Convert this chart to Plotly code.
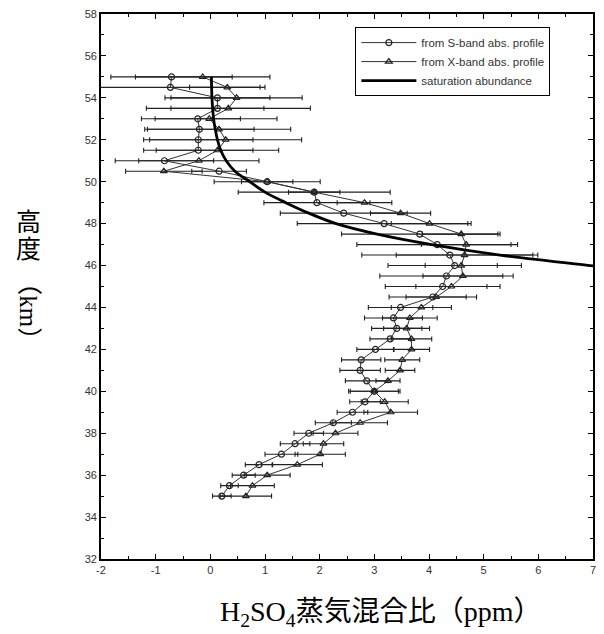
import plotly.graph_objects as go

# Altitude grid (km)
altitude = [35.0, 35.5, 36.0, 36.5, 37.0, 37.5, 38.0, 38.5, 39.0, 39.5,
            40.0, 40.5, 41.0, 41.5, 42.0, 42.5, 43.0, 43.5, 44.0, 44.5,
            45.0, 45.5, 46.0, 46.5, 47.0, 47.5, 48.0, 48.5, 49.0, 49.5,
            50.0, 50.5, 51.0, 51.5, 52.0, 52.5, 53.0, 53.5, 54.0, 54.5, 55.0]

# from S-band abs. profile (ppm) and its error
s_band = [0.21, 0.35, 0.61, 0.89, 1.30, 1.55, 1.80, 2.25, 2.60, 2.83,
          3.00, 2.86, 2.74, 2.76, 3.02, 3.29, 3.41, 3.35, 3.48, 4.07,
          4.25, 4.32, 4.47, 4.38, 4.15, 3.83, 3.18, 2.44, 1.95, 1.90,
          1.04, 0.16, -0.84, -0.22, -0.22, -0.20, -0.23, 0.13, 0.13, -0.73, -0.71]
s_err = [0.17, 0.16, 0.21, 0.25, 0.30, 0.27, 0.27, 0.33, 0.28, 0.28,
         0.44, 0.39, 0.37, 0.36, 0.34, 0.37, 0.46, 0.53, 0.59, 0.80,
         1.05, 1.22, 1.22, 1.61, 1.47, 1.43, 1.59, 1.16, 0.97, 1.39,
         0.97, 0.50, 0.90, 1.00, 1.00, 1.00, 0.78, 0.85, 0.96, 1.64, 1.11]

# from X-band abs. profile (ppm) and its error
x_band = [0.65, 0.77, 1.04, 1.59, 2.01, 2.07, 2.29, 2.74, 3.30, 3.19,
          3.00, 3.25, 3.47, 3.51, 3.68, 3.68, 3.59, 3.65, 3.86, 4.13,
          4.41, 4.62, 4.59, 4.65, 4.68, 4.59, 4.01, 3.48, 2.82, 1.90,
          1.04, -0.85, -0.21, 0.13, 0.28, 0.16, -0.02, 0.33, 0.48, 0.31, -0.14]
x_err = [0.47, 0.40, 0.42, 0.46, 0.46, 0.37, 0.41, 0.50, 0.49, 0.43,
         0.47, 0.22, 0.27, 0.32, 0.33, 0.37, 0.42, 0.50, 0.55, 0.55,
         0.65, 0.73, 0.66, 1.25, 0.82, 0.71, 0.70, 0.55, 0.50, 0.47,
         0.47, 0.70, 1.10, 1.12, 1.39, 1.31, 1.24, 1.50, 1.20, 0.69, 1.23]

# saturation abundance curve
sat_alt = [55.0, 54.0, 53.0, 52.5, 52.0, 51.5, 51.0, 50.5, 50.0, 49.5,
           49.0, 48.5, 48.0, 47.5, 47.0, 46.5, 46.0, 45.9]
sat_val = [0.02, 0.03, 0.06, 0.09, 0.13, 0.19, 0.29, 0.45, 0.72, 1.00,
           1.38, 1.80, 2.30, 3.05, 4.05, 5.30, 6.95, 7.30]

x_ticks = [-2, -1, 0, 1, 2, 3, 4, 5, 6, 7]
y_ticks = [32, 34, 36, 38, 40, 42, 44, 46, 48, 50, 52, 54, 56, 58]

fig = go.Figure()

fig.add_trace(go.Scatter(
    x=s_band, y=altitude, mode="lines+markers",
    name="from S-band abs. profile",
    line=dict(color="#333333", width=1),
    marker=dict(symbol="circle-open", size=6, color="#222222",
                line=dict(width=1.2)),
    error_x=dict(type="data", array=s_err, symmetric=True,
                 color="#222222", thickness=1.1, width=2.5),
))
fig.add_trace(go.Scatter(
    x=x_band, y=altitude, mode="lines+markers",
    name="from X-band abs. profile",
    line=dict(color="#333333", width=1),
    marker=dict(symbol="triangle-up-open", size=6, color="#222222",
                line=dict(width=1.2)),
    error_x=dict(type="data", array=x_err, symmetric=True,
                 color="#222222", thickness=1.1, width=2.5),
))
fig.add_trace(go.Scatter(
    x=sat_val, y=sat_alt, mode="lines",
    name="saturation abundance",
    line=dict(color="black", width=2.8, shape="spline"),
))

tick_font = dict(family="Liberation Sans, Arial, sans-serif", size=11, color="#333333")

fig.update_xaxes(
    range=[-2, 7], tickvals=x_ticks, ticktext=[str(v) for v in x_ticks],
    showgrid=False, zeroline=False, showline=True, linecolor="black",
    linewidth=1.8, mirror="ticks", ticks="inside", ticklen=5,
    tickcolor="black", tickwidth=1.2,
    minor=dict(dtick=0.5, tick0=0, ticks="inside", ticklen=3,
               tickcolor="black", tickwidth=1),
    tickfont=tick_font,
)
fig.update_yaxes(
    range=[32, 58], tickvals=y_ticks, ticktext=[str(v) for v in y_ticks],
    showgrid=False, zeroline=False, showline=True, linecolor="black",
    linewidth=1.8, mirror="ticks", ticks="inside", ticklen=5,
    tickcolor="black", tickwidth=1.2,
    minor=dict(dtick=1, tick0=0, ticks="inside", ticklen=3,
               tickcolor="black", tickwidth=1),
    tickfont=tick_font,
)

serif = "Liberation Serif, Noto Sans CJK JP, serif"

annotations = [
    dict(text="H<sub>2</sub>SO<sub>4</sub>蒸気混合比（ppm）",
         x=0.568, y=-0.1, xref="paper", yref="paper",
         xanchor="center", yanchor="middle", showarrow=False,
         font=dict(family=serif, size=28, color="black")),
    dict(text="高", x=-0.147, y=0.618, xref="paper", yref="paper",
         xanchor="center", yanchor="middle", showarrow=False,
         font=dict(family=serif, size=25, color="black")),
    dict(text="度", x=-0.147, y=0.568, xref="paper", yref="paper",
         xanchor="center", yanchor="middle", showarrow=False,
         font=dict(family=serif, size=25, color="black")),
    dict(text="（km）", x=-0.147, y=0.455, xref="paper", yref="paper",
         xanchor="center", yanchor="middle", showarrow=False, textangle=90,
         font=dict(family=serif, size=25, color="black")),
]

fig.update_layout(
    width=604, height=634,
    margin=dict(l=101, r=8, t=14, b=75),
    paper_bgcolor="white", plot_bgcolor="white",
    showlegend=True,
    legend=dict(x=0.517, y=0.976, xanchor="left", yanchor="top",
                bordercolor="black", borderwidth=1, bgcolor="white",
                font=dict(family="Liberation Sans, Arial, sans-serif",
                          size=11.5, color="#333333"),
                itemwidth=55, tracegroupgap=0),
    annotations=annotations,
)

fig.write_html("out.html")
